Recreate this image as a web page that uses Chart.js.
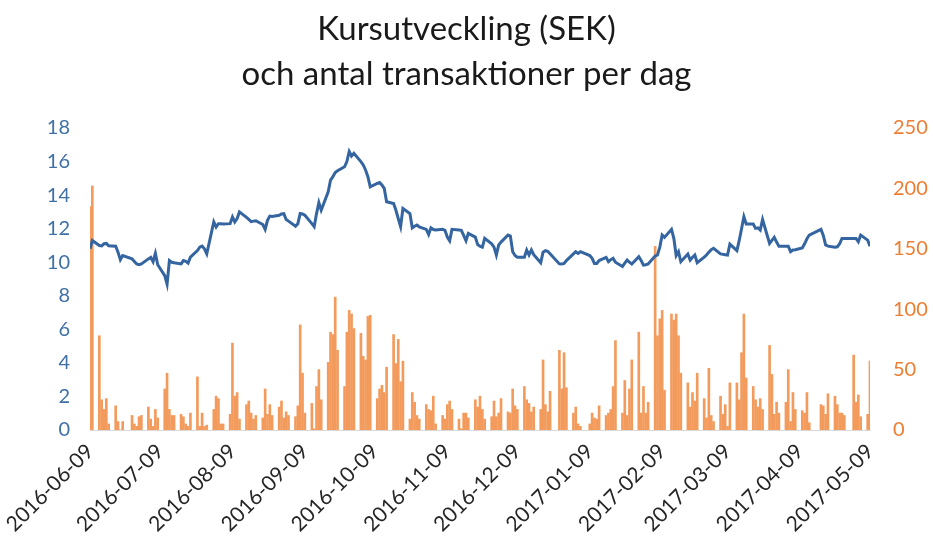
<!DOCTYPE html>
<html>
<head>
<meta charset="utf-8">
<script src="https://cdn.jsdelivr.net/npm/chart.js@4"></script>
<style>
html, body { margin: 0; padding: 0; background: #fff; }
</style>
</head>
<body>
<canvas id="chart-area" width="933" height="541"></canvas>
<script>
var startDate = '2016-06-09';
var endDate = '2017-05-09';

var tickLabels = ['2016-06-09', '2016-07-09', '2016-08-09', '2016-09-09', '2016-10-09', '2016-11-09',
    '2016-12-09', '2017-01-09', '2017-02-09', '2017-03-09', '2017-04-09', '2017-05-09'];

// kurs per handelsdag (mån-fre), null = helgdag
var price = [
    10.8, 11.3,
    11.0, 10.98, 11.1, 11.12, 10.98,
    10.95, 10.6, 10.15, 10.4, null,
    10.2, 10.05, 9.9, 9.85, 9.9,
    10.2, 10.29, 10.03, 10.53, 9.85,
    9.2, 8.7, 10.1, 10.0, 9.97,
    9.9, 10.1, 10.05, 9.95, 10.3,
    10.7, 10.9, 10.96, 10.8, 10.5,
    12.4, 12.1, 12.3, 12.3, 12.28,
    12.3, 12.7, 12.4, 12.6, 13.0,
    12.67, 12.55, 12.42, 12.45, 12.47,
    12.25, 11.96, 12.5, 12.75, 12.73,
    12.8, 12.88, 12.9, 12.55, 12.45,
    12.15, 12.3, 12.91, 12.88, 12.8,
    12.3, 12.12, 12.9, 13.55, 13.1,
    14.2, 14.9, 15.1, 15.35, 15.45,
    15.69, 16.0, 16.6, 16.33, 16.49,
    16.0, 15.8, 15.5, 15.1, 14.5,
    14.7, 14.75, 14.6, 14.4, 13.61,
    13.5, 13.1, 12.6, 12.12, 13.2,
    12.9, 12.05, 12.15, 12.22, 12.1,
    11.96, 11.65, 12.05, 11.95, 11.92,
    11.96, 11.9, 11.5, 11.28, 11.96,
    11.92, 11.9, 11.6, 11.28, 11.72,
    11.5, 11.05, 10.95, 10.89, 11.42,
    11.1, 10.9, 10.43, 11.03, 11.2,
    11.62, 11.56, 10.63, 10.4, 10.3,
    10.3, 10.73, 10.43, 10.73, 10.45,
    9.97, 10.6, 10.69, 10.65, 10.5,
    null, 9.9, 9.89, 9.93, 10.1,
    10.5, 10.63, 10.53, 10.63, null,
    10.4, 10.23, 9.93, 9.93, 10.1,
    10.29, 10.03, 10.15, 10.23, 10.0,
    9.75, 9.95, 10.13, 10.0, 9.89,
    10.33, 10.1, 9.83, 9.85, 9.9,
    10.37, 10.43, 10.9, 11.62, 11.48,
    11.96, 11.42, 10.4, 10.63, 10.03,
    10.49, 10.13, 10.3, 10.43, 9.97,
    10.3, 10.43, 10.6, 10.75, 10.83,
    10.5, 10.47, 10.45, 10.43, 11.08,
    10.69, 11.3, 12.0, 12.71, 12.28,
    12.28, 12.02, 12.05, 11.92, 12.55,
    11.12, 11.3, 11.48, 11.2, 10.96,
    10.96, 10.96, 10.63, 10.73, 10.75,
    10.85, 11.1, 11.4, 11.62, null,
    null, 11.96, 11.6, 11.03, 10.96,
    10.9, 10.92, 11.1, 11.42, 11.42,
    null, 11.42, 11.42, 11.22, 11.62,
    11.32, 10.96
];

// antal transaktioner per handelsdag
var trades = [
    185, 202,
    78, 25, 17, 26, 5,
    20, 7, 0, 7, null,
    12, 5, 3, 11, 12,
    19, 9, 3, 17, 10,
    34, 47, 17, 12, 12,
    13, 11, 5, 3, 14,
    44, 3, 14, 3, 4,
    17, 28, 26, 5, 5,
    13, 72, 28, 31, 9,
    21, 24, 14, 9, 12,
    10, 34, 13, 21, 12,
    19, 24, 10, 15, 12,
    11, 20, 87, 47, 14,
    22, 1, 36, 50, 25,
    56, 81, 79, 110, 66,
    36, 81, 99, 96, 84,
    80, 61, 58, 94, 95,
    26, 34, 37, 31, 52,
    79, 55, 75, 40, 57,
    9, 31, 23, 12, 9,
    21, 17, 16, 28, 5,
    12, 9, 21, 24, 17,
    9, 1, 14, 14, 10,
    25, 19, 28, 17, 9,
    11, 24, 11, 14, 26,
    15, 14, 34, 20, 17,
    36, 25, 22, 15, 19,
    17, 58, 21, 15, 32,
    null, 66, 34, 64, 35,
    14, 19, 5, 3, null,
    5, 14, 10, 9, 20,
    12, 14, 17, 36, 74,
    14, 41, 12, 34, 58,
    81, 14, 36, 14, 23,
    152, 78, 92, 99, 33,
    96, 91, 96, 78, 47,
    39, 19, 31, 24, 47,
    26, 10, 51, 12, 7,
    28, 13, 21, 3, 39,
    39, 25, 64, 96, 43,
    36, 25, 19, 26, 17,
    70, 46, 13, 23, 14,
    23, 50, 7, 31, 17,
    16, 14, 31, 6, null,
    null, 21, 20, 13, 30,
    28, 21, 14, 14, 12,
    null, 62, 23, 29, 11,
    13, 57
];

var dayMs = 86400000;
var start = Date.parse(startDate + 'T00:00:00Z');
var end = Date.parse(endDate + 'T00:00:00Z');

// handelsdagar som dagnummer från startdatum
var tradingDays = [];
for (var t = start; t <= end; t += dayMs) {
    var wd = new Date(t).getUTCDay();
    if (wd !== 0 && wd !== 6) {
        tradingDays.push(Math.round((t - start) / dayMs));
    }
}
var tickDays = tickLabels.map(function(s) {
    return Math.round((Date.parse(s + 'T00:00:00Z') - start) / dayMs);
});

var toPoints = function(values) {
    return tradingDays.map(function(day, i) {
        return {x: day, y: values[i]};
    });
};

var blue = '#3465A0';
var orange = '#ED7D31';
var font = 'Lato, "Liberation Sans", sans-serif';

var config = {
    type: 'bar',
    data: {
        datasets: [{
            type: 'line',
            label: 'Kurs',
            data: toPoints(price),
            yAxisID: 'y',
            borderColor: blue,
            borderWidth: 3,
            pointRadius: 0,
            tension: 0,
            spanGaps: true,
            order: 0
        }, {
            type: 'bar',
            label: 'Transaktioner',
            data: toPoints(trades),
            yAxisID: 'y1',
            backgroundColor: '#F29B5C',
            barThickness: 2,
            order: 1
        }]
    },
    options: {
        responsive: false,
        animation: false,
        devicePixelRatio: 1,
        layout: { padding: 0 },
        plugins: {
            legend: { display: false },
            tooltip: { enabled: false },
            title: {
                display: true,
                text: ['Kursutveckling (SEK)', 'och antal transaktioner per dag'],
                color: '#1a1a1a',
                font: { family: font, size: 33, weight: 'normal', lineHeight: 1.364 },
                padding: { top: 7, bottom: 31 }
            }
        },
        scales: {
            x: {
                type: 'linear',
                offset: false,
                min: 0,
                max: tickDays[tickDays.length - 1],
                grid: { display: false, drawTicks: false, offset: false },
                border: { display: true, color: '#D9D9D9', width: 1 },
                afterBuildTicks: function(scale) {
                    scale.ticks = tickDays.map(function(v) { return {value: v}; });
                },
                afterFit: function(scale) {
                    scale.height = 111;
                    scale.paddingLeft = 0;
                    scale.paddingRight = 0;
                },
                ticks: {
                    autoSkip: false,
                    minRotation: 45,
                    maxRotation: 45,
                    padding: 9,
                    color: '#262626',
                    font: { family: font, size: 21 },
                    callback: function(value) {
                        var i = tickDays.indexOf(value);
                        return i >= 0 ? tickLabels[i] : '';
                    }
                }
            },
            y: {
                position: 'left',
                min: 0,
                max: 18,
                grid: { display: false, drawTicks: false },
                border: { display: false },
                afterFit: function(scale) { scale.width = 90; },
                ticks: {
                    stepSize: 2,
                    padding: 20,
                    color: '#3F70A6',
                    font: { family: font, size: 20 }
                }
            },
            y1: {
                position: 'right',
                min: 0,
                max: 250,
                grid: { display: false, drawTicks: false },
                border: { display: false },
                afterFit: function(scale) { scale.width = 63; },
                ticks: {
                    stepSize: 50,
                    padding: 23,
                    color: orange,
                    font: { family: font, size: 20 }
                }
            }
        }
    }
};

window.onload = function() {
    var ctx = document.getElementById('chart-area').getContext('2d');
    window.myChart = new Chart(ctx, config);
};
</script>
</body>
</html>
